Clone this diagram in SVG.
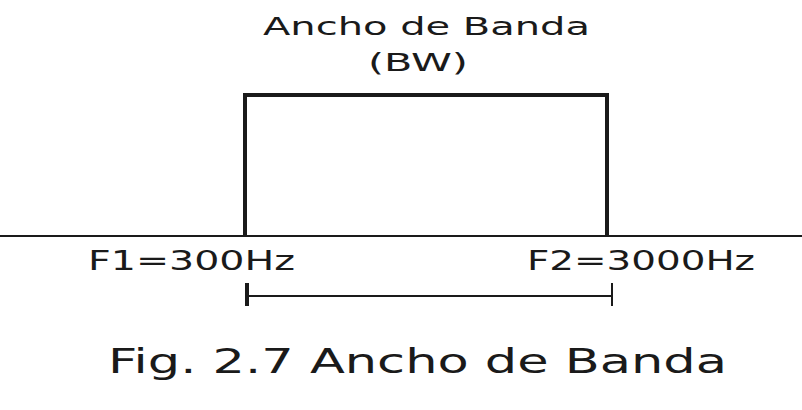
<svg xmlns="http://www.w3.org/2000/svg" width="802" height="410" viewBox="0 0 802 410">
<style>
text{font-family:"DejaVu Sans",sans-serif;fill:#1a1a1a}
.thick{stroke:#1a1a1a;stroke-width:4;fill:none}
.thin{stroke:#1a1a1a;stroke-width:2;fill:none}
</style>
<rect width="802" height="410" fill="#fff"/>
<g id="axis">
<line class="thin" x1="0" y1="236" x2="802" y2="236"/>
</g>
<g id="band">
<polyline class="thick" points="245,236 245,95 607,95 607,236"/>
</g>
<g id="bracket">
<line class="thick" x1="247" y1="283" x2="247" y2="306"/>
<line class="thin" x1="612" y1="283" x2="612" y2="306"/>
<line class="thin" x1="247" y1="296" x2="612" y2="296"/>
</g>
<g id="labels">
<text x="263" y="35" font-size="25" textLength="327" lengthAdjust="spacingAndGlyphs">Ancho de Banda</text>
<text x="368" y="71" font-size="25" textLength="100" lengthAdjust="spacingAndGlyphs">(BW)</text>
<text x="88" y="270" font-size="27" textLength="207" lengthAdjust="spacingAndGlyphs">F1=300Hz</text>
<text x="527" y="270" font-size="27" textLength="228" lengthAdjust="spacingAndGlyphs">F2=3000Hz</text>
<text x="108" y="373" font-size="34" textLength="619" lengthAdjust="spacingAndGlyphs">Fig. 2.7 Ancho de Banda</text>
</g>
</svg>
